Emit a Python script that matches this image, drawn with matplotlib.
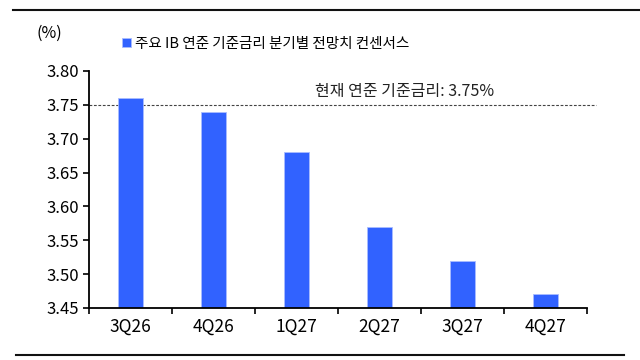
import numpy as np
import matplotlib as mpl
import matplotlib.pyplot as plt

plt.rcParams['font.family'] = ['Noto Sans CJK KR', 'DejaVu Sans']

# 데이터
quarters = ['3Q26', '4Q26', '1Q27', '2Q27', '3Q27', '4Q27']
rates = [3.76, 3.74, 3.68, 3.57, 3.52, 3.47]
current_rate = 3.75
yticks = [3.45, 3.50, 3.55, 3.60, 3.65, 3.70, 3.75, 3.80]

fig = plt.figure(figsize=(6.4, 3.6), dpi=100)
ax = fig.add_axes([89/640, 1-308/360, (587-89)/640, (308-71)/360])

x = np.arange(len(quarters))
ax.bar(x, rates, width=0.31, color='#3162ff', edgecolor='#a9bcff', linewidth=0.6,
       label='주요 IB 연준 기준금리 분기별 전망치 컨센서스', zorder=2)
ax.axhline(current_rate, xmin=0, xmax=(596-89)/(587-89), color='#444444',
           linestyle=(0, (2.5, 1.5)), linewidth=0.8, clip_on=False, zorder=1)
ax.text(3.3, current_rate+0.007, '현재 연준 기준금리: 3.75%', ha='center', va='bottom',
        fontsize=11.5, color='#222222')

ax.set_xlim(-0.5, len(quarters)-0.5)
ax.set_ylim(3.45, 3.80)
ax.set_yticks(yticks)
ax.set_yticklabels(['%.2f' % v for v in yticks], fontsize=12)
ax.set_xticks(x)
ax.set_xticklabels(quarters, fontsize=12.5)
ax.tick_params(axis='x', length=0, pad=7)
ax.set_xticks(np.arange(-0.5, len(quarters)), minor=True)
ax.tick_params(axis='x', which='minor', length=4, width=1.2, direction='out')
ax.tick_params(axis='y', length=4, width=1.2, direction='out', pad=3)
for s in ['top', 'right']:
    ax.spines[s].set_visible(False)
for s in ['left', 'bottom']:
    ax.spines[s].set_linewidth(1.3)

ax.legend(loc='lower left', bbox_to_anchor=(122/640, 1-51/360), bbox_transform=fig.transFigure,
          frameon=False, fontsize=10.5, handlelength=0.6, handleheight=0.6, handletextpad=0.3,
          borderpad=0, borderaxespad=0)
fig.text(36/640, 1-33/360, '(%)', fontsize=11.5, va='center', ha='left')

# 상단/하단 구분선
fig.add_artist(mpl.lines.Line2D([13/640, 1], [1-10/360, 1-10/360], color='#111111', linewidth=1.5))
fig.add_artist(mpl.lines.Line2D([16/640, 624/640], [1-355/360, 1-355/360], color='#111111', linewidth=1.5))

fig.savefig('out.png', dpi=100)
